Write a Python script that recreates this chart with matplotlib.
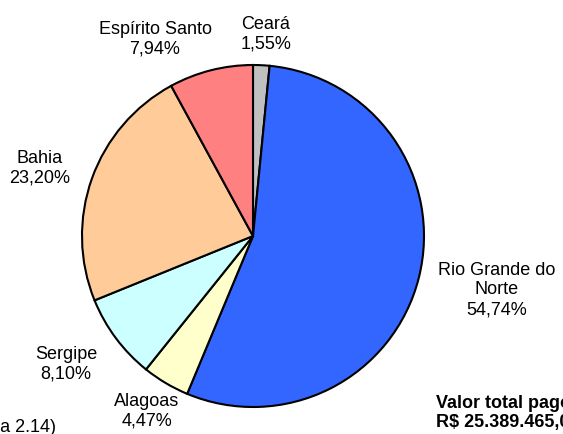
import matplotlib
matplotlib.use("Agg")
import matplotlib.pyplot as plt

plt.rcParams['font.family'] = ['Liberation Sans', 'DejaVu Sans']

states = ["Ceará", "Rio Grande do\nNorte", "Alagoas", "Sergipe", "Bahia", "Espírito Santo"]
values = [1.55, 54.74, 4.47, 8.10, 23.20, 7.94]
colors = ["#C0C0C0", "#3366FF", "#FFFFCC", "#CCFFFF", "#FFCC99", "#FF8080"]
label_pos = [(266, 34), (497, 290), (147, 411), (66, 364), (40, 168), (155, 39)]

W, H = 563, 435
fig = plt.figure(figsize=(W / 100, H / 100), dpi=100)
ax = fig.add_axes([0, 0, 1, 1])

ax.pie(values, colors=colors, startangle=90, counterclock=False,
       center=(253, H - 237), radius=171,
       wedgeprops=dict(edgecolor="black", linewidth=1.5), frame=True)
ax.set_xlim(0, W)
ax.set_ylim(0, H)
ax.axis("off")

FS = 13
for name, v, (x, y) in zip(states, values, label_pos):
    txt = f"{name}\n{v:.2f}%".replace(".", ",")
    ax.text(x, H - y, txt, ha="center", va="center", fontsize=FS,
            linespacing=1.2)

ax.text(436, H - 413, "Valor total pago\nR$ 25.389.465,00", ha="left", va="center",
        fontsize=FS, fontweight="bold", linespacing=1.2)
ax.text(56, H - 428, "(Tabela 2.14)", ha="right", va="center", fontsize=FS)

fig.savefig("out.png", dpi=100)
